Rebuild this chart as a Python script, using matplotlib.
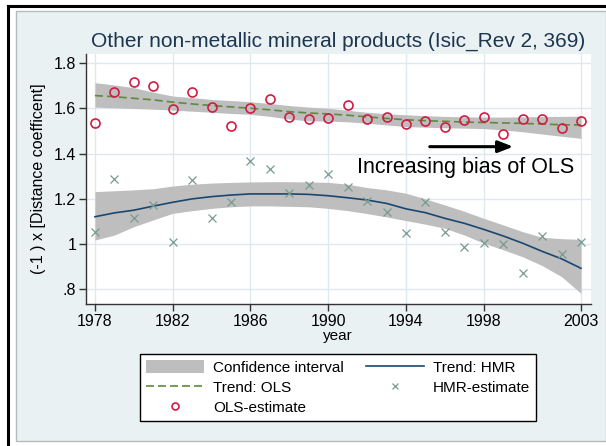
import matplotlib
matplotlib.use('Agg')
import matplotlib.pyplot as plt
from matplotlib.patches import Rectangle, Patch
from matplotlib.lines import Line2D
import numpy as np

plt.rcParams['font.family'] = ['Liberation Sans', 'DejaVu Sans']

years = np.arange(1978, 2004)

# point estimates per year
ols_est = [1.535, 1.674, 1.719, 1.700, 1.596, 1.674, 1.608, 1.523, 1.601, 1.642,
           1.561, 1.554, 1.557, 1.615, 1.552, 1.564, 1.530, 1.545, 1.517, 1.549,
           1.564, 1.485, 1.554, 1.554, 1.512, 1.546]
hmr_est = [1.052, 1.288, 1.114, 1.173, 1.008, 1.284, 1.114, 1.188, 1.369, 1.332,
           1.227, 1.261, 1.310, 1.254, 1.192, 1.143, 1.048, 1.188, 1.055, 0.989,
           1.004, 1.000, 0.873, 1.037, 0.955, 1.011]

# fitted trends and their confidence bands
ols_trend = [1.657, 1.652, 1.645, 1.638, 1.628, 1.620, 1.613, 1.607, 1.601, 1.594,
             1.586, 1.580, 1.576, 1.570, 1.563, 1.556, 1.550, 1.546, 1.543, 1.540,
             1.538, 1.536, 1.534, 1.531, 1.528, 1.527]
ols_hi = [1.714, 1.704, 1.692, 1.672, 1.655, 1.648, 1.640, 1.635, 1.630, 1.622,
          1.613, 1.606, 1.601, 1.592, 1.583, 1.577, 1.572, 1.568, 1.565, 1.563,
          1.562, 1.562, 1.563, 1.564, 1.565, 1.566]
ols_lo = [1.606, 1.603, 1.600, 1.597, 1.593, 1.588, 1.583, 1.578, 1.574, 1.565,
          1.553, 1.545, 1.544, 1.541, 1.535, 1.527, 1.520, 1.517, 1.515, 1.513,
          1.511, 1.505, 1.497, 1.487, 1.477, 1.468]
hmr_trend = [1.121, 1.138, 1.150, 1.168, 1.185, 1.200, 1.210, 1.217, 1.222, 1.222,
             1.222, 1.220, 1.214, 1.205, 1.195, 1.180, 1.156, 1.139, 1.114, 1.092,
             1.065, 1.036, 1.004, 0.968, 0.935, 0.893]
hmr_hi = [1.232, 1.236, 1.240, 1.245, 1.257, 1.265, 1.270, 1.273, 1.275, 1.276,
          1.276, 1.275, 1.273, 1.265, 1.250, 1.240, 1.225, 1.200, 1.173, 1.145,
          1.114, 1.085, 1.055, 1.030, 1.024, 1.021]
hmr_lo = [1.018, 1.040, 1.077, 1.107, 1.136, 1.148, 1.158, 1.165, 1.169, 1.169,
          1.167, 1.165, 1.158, 1.148, 1.135, 1.120, 1.104, 1.088, 1.070, 1.040,
          1.004, 0.975, 0.944, 0.905, 0.856, 0.782]

xticks = [1978, 1982, 1986, 1990, 1994, 1998, 2003]
yticks = [0.8, 1.0, 1.2, 1.4, 1.6, 1.8]
ytick_labels = ['.8', '1', '1.2', '1.4', '1.6', '1.8']

W, H = 606, 446
fig = plt.figure(figsize=(W / 100, H / 100), dpi=100)
fig.patch.set_facecolor('white')

# outer frame and light graph region
fig.add_artist(Rectangle((16 / W, 1 - 441 / H), (W - 16) / W, (441 - 11) / H,
                         transform=fig.transFigure, facecolor='#e9f1f3',
                         edgecolor='#b4bcbc', lw=1.0, zorder=-10))
fig.add_artist(Line2D([8 / W, 1], [1 - 6 / H, 1 - 6 / H], transform=fig.transFigure,
                      color='black', lw=2.2, zorder=-10))
fig.add_artist(Line2D([8 / W, 8 / W], [0, 1 - 6 / H], transform=fig.transFigure,
                      color='black', lw=2.2, zorder=-10))

ax = fig.add_axes([86 / W, 1 - 304 / H, (590.5 - 86) / W, (304 - 54) / H])
ax.set_facecolor('white')
ax.set_xlim(1977.54, 2003.49)
ax.set_ylim(0.735, 1.841)

grid_c = '#dde9ee'
for x in xticks:
    ax.axvline(x, color=grid_c, lw=1.0, zorder=0)
for y in yticks:
    ax.axhline(y, color=grid_c, lw=1.0, zorder=0)

band_c = '#bebebe'
ax.fill_between(years, ols_lo, ols_hi, color=band_c, lw=0, zorder=1)
ax.fill_between(years, hmr_lo, hmr_hi, color=band_c, lw=0, zorder=1)

ax.plot(years, hmr_trend, color='#1a476f', lw=1.2, zorder=3)
ax.plot(years, ols_trend, color='#5e8a3c', lw=1.2, dashes=(4.8, 2.4), zorder=3)
ax.plot(years, hmr_est, ls='none', marker='x', ms=6, mew=0.9, color='#7a9a90', zorder=4)
ax.plot(years, ols_est, ls='none', marker='o', ms=6.5, mew=1.2, mfc='none',
        mec='#d01c44', zorder=4)

ax.annotate('', xy=(1999.66, 1.431), xytext=(1995.08, 1.431),
            arrowprops=dict(arrowstyle='-|>,head_length=0.9,head_width=0.35',
                            color='black', lw=2.2))
ax.text(1997.08, 1.337, 'Increasing bias of OLS', ha='center', va='center',
        fontsize=15.5, color='black')

ax.set_xticks(xticks)
ax.set_yticks(yticks)
ax.set_yticklabels(ytick_labels)
ax.tick_params(direction='out', length=5, width=1, color='#333333',
               labelsize=11.5, pad=2)
for s in ['top', 'right']:
    ax.spines[s].set_visible(False)
for s in ['left', 'bottom']:
    ax.spines[s].set_color('#333333')
    ax.spines[s].set_linewidth(1.0)

ax.set_xlabel('year', fontsize=11, labelpad=0)
ax.set_ylabel('(-1 ) x [Distance coefficent]', fontsize=11.5, labelpad=6)
ax.set_title('Other non-metallic mineral products (Isic_Rev 2, 369)',
             fontsize=15, color='#1e3550', pad=5)

handles = [
    Patch(facecolor=band_c, edgecolor='none'),
    Line2D([], [], color='#5e8a3c', lw=1.2, dashes=(4.8, 2.4)),
    Line2D([], [], ls='none', marker='o', ms=5, mew=1.2, mfc='none', mec='#d01c44'),
    Line2D([], [], color='#1a476f', lw=1.2),
    Line2D([], [], ls='none', marker='x', ms=5, mew=0.9, color='#7a9a90'),
]
labels = ['Confidence interval', 'Trend: OLS', 'OLS-estimate', 'Trend: HMR', 'HMR-estimate']
leg = fig.legend(handles, labels, ncol=2, loc='center',
                 bbox_to_anchor=(338 / W, 1 - 387.5 / H), fontsize=11,
                 frameon=True, fancybox=False, framealpha=1, handlelength=3.8,
                 handleheight=1.0, handletextpad=0.6, columnspacing=1.45,
                 labelspacing=0.35, borderpad=0.35)
leg.get_frame().set_edgecolor('black')
leg.get_frame().set_linewidth(1.0)

fig.savefig('out.png', dpi=100)
